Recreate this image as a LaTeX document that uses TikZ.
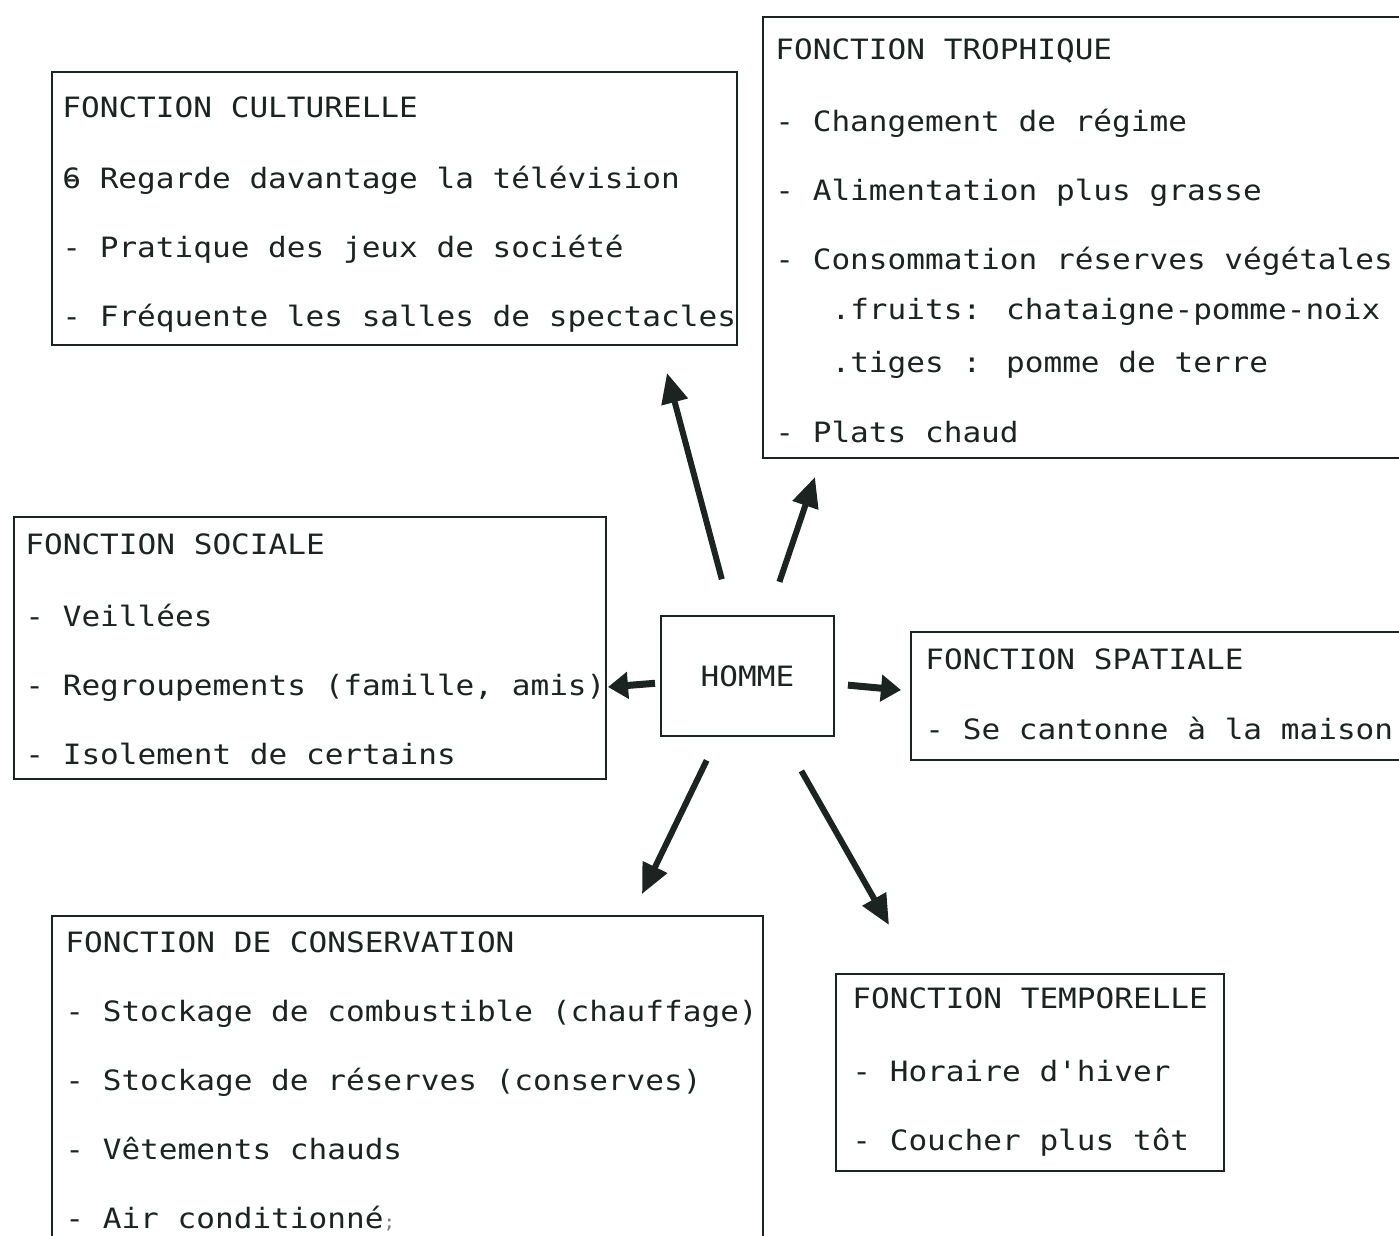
\documentclass[tikz,border=0pt]{standalone}
\usepackage{fontspec}
\usepackage{tikz}
\usetikzlibrary{arrows.meta,positioning}
\newfontfamily\typewr[FakeStretch=1.11]{DejaVu Sans Mono}
\definecolor{ink}{RGB}{28,36,33}
\tikzset{
  fbox/.style={rectangle, draw=ink, line width=1pt, anchor=north west, inner sep=0pt},
  ftext/.style={inner sep=0pt, align=left, text=ink,
    font=\typewr\fontsize{14}{34.5}\selectfont},
  farrow/.style={draw=ink, line width=3pt, -{Triangle[length=15pt,width=13pt]}}
}

\begin{document}
\begin{tikzpicture}[x=0.5pt,y=-0.5pt]
  \useasboundingbox (0,0) rectangle (1399,1236);
  % Cadres
  \node[fbox, minimum width=342.5pt, minimum height=136.5pt] (cult) at (51,71) {};
  \node[fbox, minimum width=330pt, minimum height=220.5pt]   (trop) at (762,16) {};
  \node[fbox, minimum width=296pt, minimum height=131pt]     (soc)  at (13,516) {};
  \node[fbox, minimum width=86.5pt, minimum height=60pt]     (homme) at (660,615) {};
  \node[fbox, minimum width=260pt, minimum height=64pt]      (spat) at (910,631) {};
  \node[fbox, minimum width=355.5pt, minimum height=160.5pt] (cons) at (51,915) {};
  \node[fbox, minimum width=194pt, minimum height=98.5pt]    (temp) at (835,973) {};
  % Textes
  \node[ftext, below right=12.5pt and 5.5pt of cult.north west] (cult-t)
    {FONCTION CULTURELLE\\[1pt]
     \rlap{-}6 Regarde davantage la télévision\\
     - Pratique des jeux de société\\
     - Fréquente les salles de spectacles};
  \node[ftext, below right=11pt and 6.5pt of trop.north west] (trop-t)
    {FONCTION TROPHIQUE\\[1.5pt]
     - Changement de régime\\
     - Alimentation plus grasse\\
     - Consommation réserves végétales\\[-9.5pt]
     \hphantom{xxx}.fruits: chataigne-pomme-noix\\[-8pt]
     \hphantom{xxx}.tiges : pomme de terre\\[0.5pt]
     - Plats chaud};
  \node[ftext, below right=8.5pt and 6pt of soc.north west] (soc-t)
    {FONCTION SOCIALE\\[1.5pt]
     - Veillées\\
     - Regroupements (famille, amis)\\
     - Isolement de certains};
  \node[ftext] (homme-t) at (homme.center) {HOMME};
  \node[ftext, below right=8.5pt and 7.5pt of spat.north west] (spat-t)
    {FONCTION SPATIALE\\[0.5pt]
     - Se cantonne à la maison};
  \node[ftext, below right=8pt and 7pt of cons.north west] (cons-t)
    {FONCTION DE CONSERVATION\\
     - Stockage de combustible (chauffage)\\
     - Stockage de réserves (conserves)\\
     - Vêtements chauds\\
     - Air conditionné{\color{ink!60}\small;}};
  \node[ftext, below right=7pt and 8.5pt of temp.north west] (temp-t)
    {FONCTION TEMPORELLE\\[2pt]
     - Horaire d'hiver\\
     - Coucher plus tôt};
  % Pointes des fleches
  \coordinate (p-cult) at (667,373);
  \coordinate (p-trop) at (815,477);
  \coordinate (p-soc)  at (608,687);
  \coordinate (p-spat) at (901,690);
  \coordinate (p-cons) at (642,894);
  \coordinate (p-temp) at (889,925);
  % Fleches
  \draw[farrow, shorten <=18.5pt] (homme) -- (p-cult);
  \draw[farrow, shorten <=17.5pt] (homme) -- (p-trop);
  \draw[farrow, line width=3.5pt, -{Triangle[length=10pt,width=13pt]}, shorten <=2.5pt]
    (homme) -- (p-soc);
  \draw[farrow, line width=3.5pt, -{Triangle[length=10pt,width=13pt]}, shorten <=6.5pt]
    (homme) -- (p-spat);
  \draw[farrow, shorten <=13pt]   (homme) -- (p-cons);
  \draw[farrow, shorten <=19.5pt] (homme) -- (p-temp);
\end{tikzpicture}
\end{document}
